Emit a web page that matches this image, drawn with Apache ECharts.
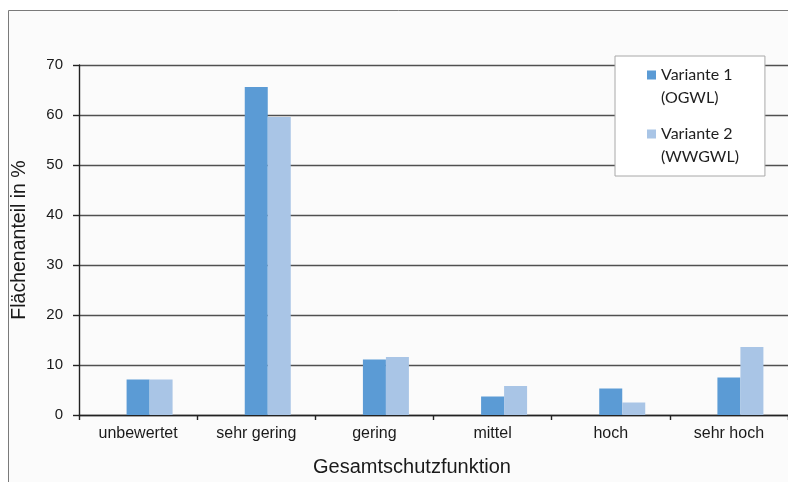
<!DOCTYPE html>
<html>
<head>
<meta charset="utf-8">
<script src="https://cdn.jsdelivr.net/npm/echarts@6/dist/echarts.min.js"></script>
<style>
html,body{margin:0;padding:0;background:#fff;}
#chart{width:788px;height:482px;}
</style>
</head>
<body>
<div id="chart"></div>
<script>
const categories = ['unbewertet', 'sehr gering', 'gering', 'mittel', 'hoch', 'sehr hoch'];
const variante1 = [7.1, 65.6, 11.1, 3.7, 5.3, 7.5];
const variante2 = [7.1, 59.6, 11.6, 5.8, 2.5, 13.6];
const seriesNames = ['Variante 1 (OGWL)', 'Variante 2 (WWGWL)'];
const yTicks = { min: 0, max: 70, interval: 10 };
const xAxisName = 'Gesamtschutzfunktion';
const yAxisName = 'Flächenanteil in %';

const chart = echarts.init(document.getElementById('chart'), null, { renderer: 'canvas' });
const axisFont = 'Liberation Sans, Arial, sans-serif';
chart.setOption({
  backgroundColor: '#ffffff',
  animation: false,
  graphic: [{
    type: 'rect', z: -10, silent: true,
    shape: { x: 8.5, y: 10.5, width: 820, height: 500 },
    style: { fill: '#fbfbfb', stroke: '#7a7a7a', lineWidth: 1 }
  }],
  legend: {
    data: seriesNames,
    orient: 'vertical',
    left: 615, top: 56,
    padding: [8, 26, 8, 32],
    backgroundColor: '#ffffff',
    borderColor: '#a8a8a8', borderWidth: 1,
    itemWidth: 9, itemHeight: 32, itemGap: 14,
    icon: 'path://M0,0H9V9H0Z M0,32H9',
    formatter: n => n.replace(' (', '\n('),
    textStyle: { fontFamily: 'Lato, Open Sans, sans-serif', fontSize: 16, lineHeight: 22.5, color: '#1e1e1e' }
  },
  grid: { left: 79, top: 65, width: 714, height: 354, containLabel: false },
  xAxis: {
    type: 'category', data: categories, boundaryGap: true,
    axisLine: { lineStyle: { color: '#222', width: 1.4 } },
    axisTick: { show: true, length: 5, alignWithLabel: false, lineStyle: { color: '#222', width: 1.4 } },
    axisLabel: { fontFamily: axisFont, fontSize: 16, color: '#1a1a1a', margin: 11, interval: 0 },
    name: xAxisName, nameLocation: 'middle', nameGap: 42,
    nameTextStyle: { fontFamily: axisFont, fontSize: 20, color: '#1a1a1a', padding: [0, 43, 0, 0] }
  },
  yAxis: {
    type: 'value', min: yTicks.min, max: yTicks.max, interval: yTicks.interval,
    axisLine: { show: true, lineStyle: { color: '#222', width: 1.4 } },
    axisTick: { show: true, length: 6, lineStyle: { color: '#222', width: 1.4 } },
    splitLine: { show: true, lineStyle: { color: '#505050', width: 1.4 } },
    axisLabel: { fontFamily: axisFont, fontSize: 15, color: '#1a1a1a', margin: 16 },
    name: yAxisName, nameLocation: 'middle', nameGap: 49,
    nameTextStyle: { fontFamily: axisFont, fontSize: 19.5, color: '#1a1a1a' }
  },
  series: [
    { name: 'spacer', type: 'bar', barWidth: 23, barGap: '0%', data: categories.map(() => null), silent: true },
    { name: seriesNames[0], type: 'bar', barWidth: 23, barGap: '0%', data: variante1, itemStyle: { color: '#5b9bd5' } },
    { name: seriesNames[1], type: 'bar', barWidth: 23, barGap: '0%', data: variante2, itemStyle: { color: '#a9c5e6' } }
  ]
});
</script>
</body>
</html>
